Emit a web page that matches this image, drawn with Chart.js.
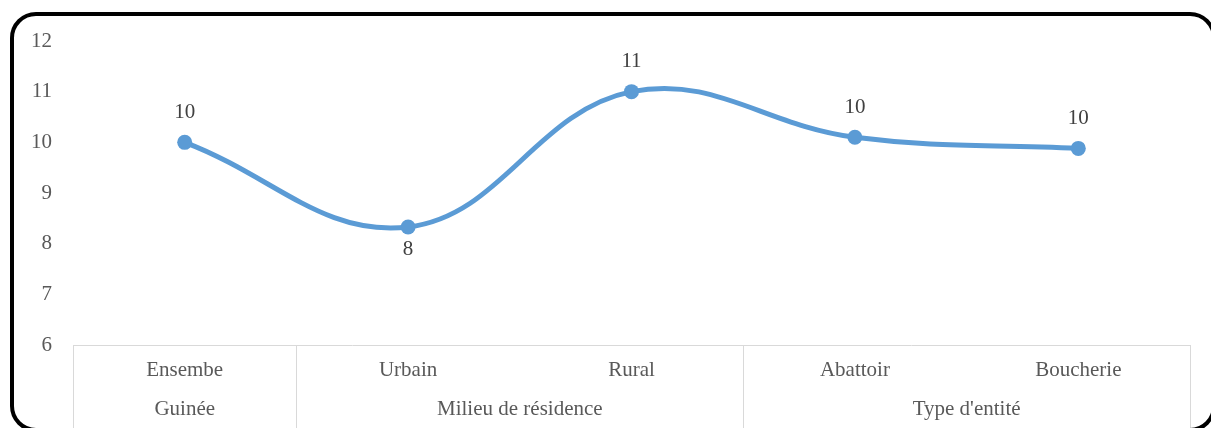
<!DOCTYPE html>
<html>
<head>
<meta charset="utf-8">
<script src="https://cdn.jsdelivr.net/npm/chart.js@4.4.0/dist/chart.umd.min.js"></script>
<style>
  html, body { margin: 0; padding: 0; background: #fff; overflow: hidden; }
  #wrap { position: relative; width: 1211px; height: 428px; overflow: hidden; }
  #frame {
    position: absolute; left: 10px; top: 12px; width: 1206px; height: 420px;
    box-sizing: border-box; border: 4px solid #000; border-radius: 26px; pointer-events: none;
  }
  canvas { position: absolute; left: 0; top: 0; }
</style>
</head>
<body>
<div id="wrap">
  <canvas id="c" width="1211" height="428"></canvas>
  <div id="frame"></div>
</div>
<script>
// Categories and their values
const categories = ['Ensembe', 'Urbain', 'Rural', 'Abattoir', 'Boucherie'];
const values = [10.0, 8.33, 11.0, 10.1, 9.88];

// Outer grouping of the categories
const groupNames = ['Guinée', 'Milieu de résidence', "Type d'entité"];
const groupSizes = [1, 2, 2];

// Value axis ticks
const yTicks = [6, 7, 8, 9, 10, 11, 12];

// Centre of each group, in category index units
const groupCenters = [];
let start = 0;
groupSizes.forEach(n => { groupCenters.push(start + (n - 1) / 2); start += n; });
// Grid line indexes (between categories) where a group begins or ends
const groupEdges = [0];
start = 0;
groupSizes.forEach(n => { start += n; groupEdges.push(start); });

const SERIF = '"Liberation Serif", "Times New Roman", serif';
const TICK_COLOR = '#595959';
const RULE_COLOR = '#d9d9d9';

// Draws each point's value (rounded) next to the point
const valueLabels = {
  id: 'valueLabels',
  afterDatasetsDraw(chart, args, opts) {
    const ctx = chart.ctx;
    const meta = chart.getDatasetMeta(0);
    const data = chart.data.datasets[0].data;
    ctx.save();
    ctx.font = '21px ' + SERIF;
    ctx.fillStyle = '#404040';
    ctx.textAlign = 'center';
    ctx.textBaseline = 'middle';
    meta.data.forEach((pt, i) => {
      const below = opts.below.includes(i);
      ctx.fillText(Math.round(data[i]).toString(), pt.x, pt.y + (below ? 23 : -30));
    });
    ctx.restore();
  }
};

new Chart(document.getElementById('c'), {
  type: 'line',
  data: {
    labels: categories,
    datasets: [{
      data: values,
      borderColor: '#5B9BD5',
      backgroundColor: '#5B9BD5',
      borderWidth: 5,
      tension: 0.4,
      pointRadius: 7.5,
      pointBorderWidth: 0,
      pointBackgroundColor: '#5B9BD5',
      fill: false
    }]
  },
  options: {
    responsive: false,
    devicePixelRatio: 1,
    animation: false,
    layout: { padding: { left: 0, right: 21, top: 41, bottom: 0 } },
    plugins: {
      legend: { display: false },
      tooltip: { enabled: false },
      valueLabels: { below: [1] }
    },
    scales: {
      y: {
        min: 6, max: 12,
        afterBuildTicks: s => { s.ticks = yTicks.map(v => ({ value: v })); },
        afterFit: s => { s.width = 73; },
        grid: { display: false, drawTicks: false },
        border: { display: false },
        ticks: { color: TICK_COLOR, font: { family: SERIF, size: 21 }, padding: 21 }
      },
      x: {
        type: 'category',
        offset: true,
        afterFit: s => { s.height = 45; },
        grid: {
          offset: true,
          drawOnChartArea: false,
          drawTicks: true,
          tickLength: 90,
          lineWidth: 1,
          color: ctx => (ctx.index === undefined || groupEdges.includes(ctx.index)) ? RULE_COLOR : 'rgba(0,0,0,0)'
        },
        border: { display: true, color: RULE_COLOR, width: 1 },
        ticks: {
          color: TICK_COLOR, font: { family: SERIF, size: 21 },
          padding: -77.6, maxRotation: 0, autoSkip: false
        }
      },
      x2: {
        type: 'linear',
        position: 'bottom',
        min: -0.5, max: categories.length - 0.5,
        afterBuildTicks: s => { s.ticks = groupCenters.map(v => ({ value: v })); },
        afterFit: s => { s.height = 38; },
        grid: { display: false, drawTicks: false },
        border: { display: false },
        ticks: {
          color: TICK_COLOR, font: { family: SERIF, size: 21 },
          padding: 6.4, maxRotation: 0, autoSkip: false,
          callback: v => groupNames[groupCenters.indexOf(v)]
        }
      }
    }
  },
  plugins: [valueLabels]
});
</script>
</body>
</html>
